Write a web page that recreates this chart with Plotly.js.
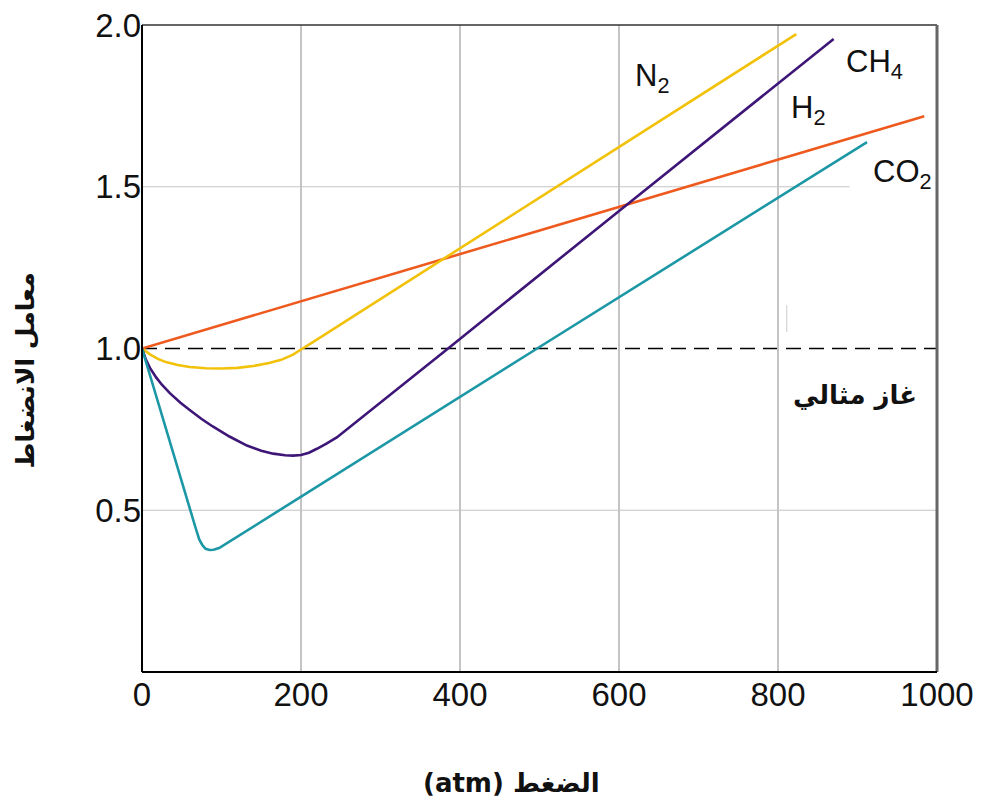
<!DOCTYPE html>
<html>
<head>
<meta charset="utf-8">
<script src="https://cdn.plot.ly/plotly-3.0.1.min.js"></script>
<style>html,body{margin:0;padding:0;background:#fff;}#chart{width:982px;height:810px;}</style>
</head>
<body>
<div id="chart"></div>
<script>
// Pressure (atm) and compressibility factor values
const n2X = [0, 10, 20, 30, 45, 60, 80, 100, 120, 140, 160, 175, 190, 200, 215, 823];
const n2Y = [1.0, 0.982, 0.968, 0.958, 0.949, 0.943, 0.939, 0.938, 0.94, 0.946, 0.955, 0.965, 0.981, 0.997, 1.02, 1.972];

const ch4X = [0, 5, 10, 18, 25, 35, 48, 60, 75, 89, 110, 132, 150, 165, 180, 190, 200, 210, 220, 232, 245, 385, 604, 870];
const ch4Y = [1.0, 0.965, 0.94, 0.91, 0.888, 0.862, 0.833, 0.81, 0.782, 0.759, 0.728, 0.70, 0.684, 0.675, 0.670, 0.669, 0.671, 0.678, 0.69, 0.706, 0.725, 1.0, 1.433, 1.957];

const h2X = [0, 984];
const h2Y = [1.0, 1.718];

const co2X = [0, 67, 72, 76, 80, 85, 90, 97, 497, 912];
const co2Y = [1.0, 0.449, 0.41, 0.392, 0.381, 0.377, 0.378, 0.383, 1.0, 1.638];

const xTicks = [0, 200, 400, 600, 800, 1000];
const yTicks = [0.5, 1.0, 1.5, 2.0];
const yTickText = ['0.5', '1.0', '1.5', '2.0'];

const idealZ = 1.0;

const labels = [
  {text: 'N<sub>2</sub>', x: 641, y: 1.836},
  {text: 'CH<sub>4</sub>', x: 922, y: 1.879},
  {text: 'H<sub>2</sub>', x: 838, y: 1.737},
  {text: 'CO<sub>2</sub>', x: 957, y: 1.539}
];
const idealLabel = 'غاز مثالي';
const xTitle = '(atm) الضغط';
const yTitle = 'معامل الانضغاط';

const lw = 2.6;
const traces = [
  {x: h2X, y: h2Y, mode: 'lines', line: {color: '#ee5a1e', width: lw}, name: 'H2'},
  {x: n2X, y: n2Y, mode: 'lines', line: {color: '#f2c10a', width: lw, simplify: false}, name: 'N2'},
  {x: ch4X, y: ch4Y, mode: 'lines', line: {color: '#3e1677', width: lw, simplify: false}, name: 'CH4'},
  {x: co2X, y: co2Y, mode: 'lines', line: {color: '#1c97a5', width: lw, simplify: false}, name: 'CO2'}
];

const fontFam = '"Liberation Sans", Arial, "DejaVu Sans", sans-serif';
const arFam = '"DejaVu Sans", "Liberation Sans", sans-serif';

const annotations = labels.map(l => ({
  x: l.x, y: l.y, xref: 'x', yref: 'y', text: l.text, showarrow: false,
  font: {family: fontFam, size: 31, color: '#111'}, xanchor: 'center', yanchor: 'middle'
}));
annotations.push({x: 897, y: 0.856, xref: 'x', yref: 'y', text: '<b>' + idealLabel + '</b>', showarrow: false,
  font: {family: arFam, size: 26, color: '#111'}, xanchor: 'center', yanchor: 'middle'});
annotations.push({x: 0.5, y: 0, xref: 'paper', yref: 'paper', xshift: -28, yshift: -111, text: '<b>' + xTitle + '</b>',
  showarrow: false, font: {family: arFam, size: 26, color: '#111'}, xanchor: 'center', yanchor: 'middle'});
annotations.push({x: 0, y: 0.5, xref: 'paper', yref: 'paper', xshift: -117, yshift: -22, text: '<b>' + yTitle + '</b>',
  textangle: -90, showarrow: false, font: {family: arFam, size: 25, color: '#111'}, xanchor: 'center', yanchor: 'middle'});

const grid = '#c4c4c4';
const shapes = [
  {type: 'line', xref: 'paper', yref: 'y', x0: 0, x1: 1, y0: 0.5, y1: 0.5, line: {color: grid, width: 1.2}, layer: 'below'},
  {type: 'line', xref: 'x', yref: 'y', x0: 0, x1: 890, y0: 1.5, y1: 1.5, line: {color: grid, width: 1.2}, layer: 'below'},
  {type: 'line', xref: 'x', yref: 'y', x0: 811, x1: 811, y0: 1.051, y1: 1.134, line: {color: '#cccccc', width: 1}, layer: 'below'},
  {type: 'line', xref: 'paper', yref: 'y', x0: 0, x1: 1, y0: idealZ, y1: idealZ, line: {color: '#000', width: 1.6, dash: '15px,8px'}, layer: 'below'},
  // frame
  {type: 'line', xref: 'paper', yref: 'paper', x0: 0, x1: 1, y0: 1, y1: 1, line: {color: '#333', width: 1.5}},
  {type: 'line', xref: 'paper', yref: 'paper', x0: 1, x1: 1, y0: 0, y1: 1, line: {color: '#666', width: 3}},
  {type: 'line', xref: 'paper', yref: 'paper', x0: 0, x1: 0, y0: 0, y1: 1, line: {color: '#000', width: 2}},
  {type: 'line', xref: 'paper', yref: 'paper', x0: 0, x1: 1, y0: 0, y1: 0, line: {color: '#000', width: 2}}
];

const layout = {
  width: 982, height: 810,
  margin: {l: 142, r: 45, t: 25, b: 138},
  paper_bgcolor: '#fff', plot_bgcolor: '#fff',
  showlegend: false,
  xaxis: {range: [0, 1000], tickvals: xTicks, ticktext: xTicks.map(String), showgrid: true, gridcolor: grid, gridwidth: 1.2,
    zeroline: false, showline: false, ticks: '', ticklen: 0, tickfont: {family: fontFam, size: 33, color: '#111'}},
  yaxis: {range: [0, 2.0], tickvals: yTicks, ticktext: yTickText, showgrid: false,
    zeroline: false, showline: false, ticks: '', ticklen: 0, tickfont: {family: fontFam, size: 33, color: '#111'}},
  annotations: annotations,
  shapes: shapes
};

Plotly.newPlot('chart', traces, layout, {displayModeBar: false, staticPlot: true});
</script>
</body>
</html>
